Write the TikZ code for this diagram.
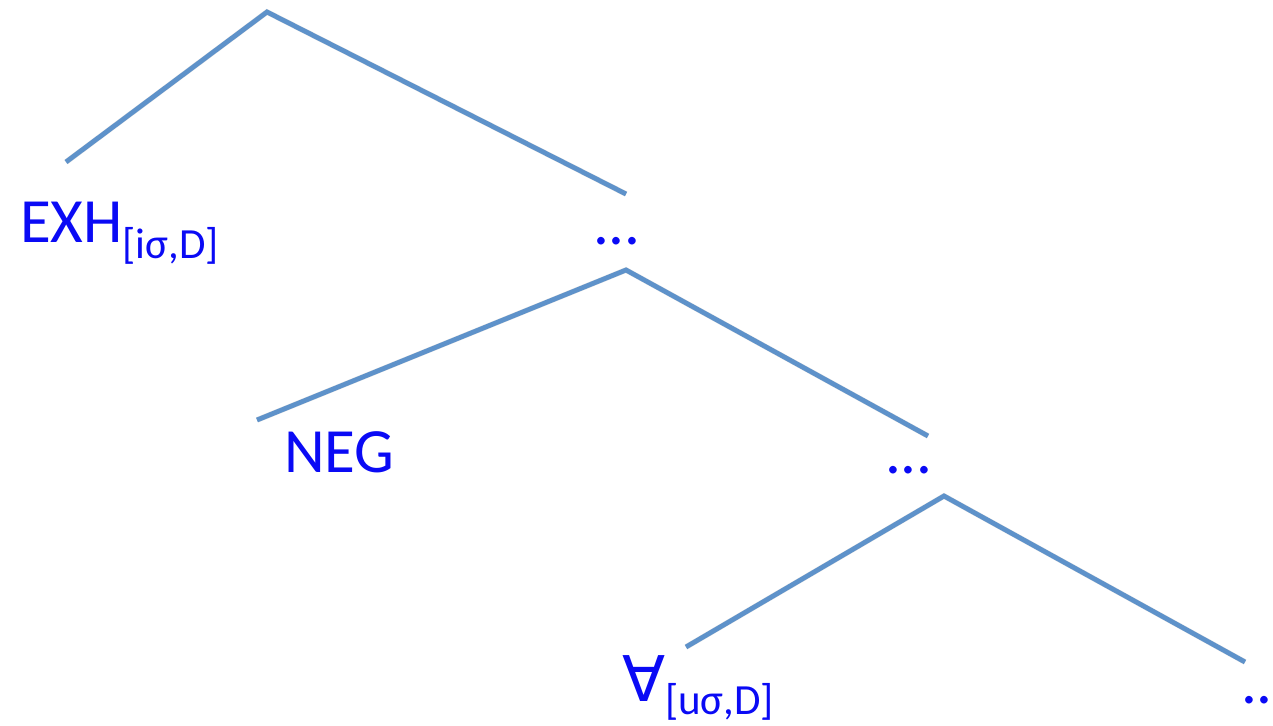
\documentclass[tikz,border=0pt]{standalone}
\usepackage{fontspec}
\setmainfont{Carlito}
\newfontfamily\symfont{DejaVu Sans}
\definecolor{branch}{RGB}{94,146,202}
\definecolor{lab}{RGB}{10,10,245}
\tikzset{
  edge/.style={draw=branch,line width=4.8pt},
  shadowedge/.style={draw=black,opacity=0.12,line width=5.5pt},
  lbl/.style={anchor=base west,inner sep=0pt,outer sep=0pt,text=lab,font=\fontsize{63}{63}\selectfont},
}
\newcommand{\subtxt}[1]{{\fontsize{43}{43}\selectfont #1}}
\begin{document}
\begin{tikzpicture}[x=1pt,y=-1pt]
\useasboundingbox (0,0) rectangle (1273,725);
% tree points
\coordinate (r0) at (267,12);
\coordinate (l0) at (66,162);
\coordinate (e0) at (626,194);
\coordinate (r1) at (626,270);
\coordinate (l1) at (257,420);
\coordinate (e1) at (928,436);
\coordinate (r2) at (944,496);
\coordinate (l2) at (686,647);
\coordinate (e2) at (1245,662);
% shadows
\begin{scope}[shift={(1.5,3)}]
\draw[shadowedge] (l0) -- (r0) -- (e0);
\draw[shadowedge] (l1) -- (r1) -- (e1);
\draw[shadowedge] (l2) -- (r2) -- (e2);
\end{scope}
% branches
\draw[edge] (l0) -- (r0) -- (e0);
\draw[edge] (l1) -- (r1) -- (e1);
\draw[edge] (l2) -- (r2) -- (e2);
% labels
\node[lbl] (exh) at (20,242) {EXH\raisebox{-16pt}{\subtxt{[iσ,D]}}};
\node[lbl] (dots1) at (593,244) {...};
\node[lbl] (neg) at (284,472) {NEG};
\node[lbl] (dots2) at (885,473) {...};
\node[lbl] (forall) at (622,701) {{\symfont ∀}\raisebox{-13pt}{\subtxt{[uσ,D]}}};
\node[lbl] (dots3) at (1241,703) {..};
\end{tikzpicture}
\end{document}
